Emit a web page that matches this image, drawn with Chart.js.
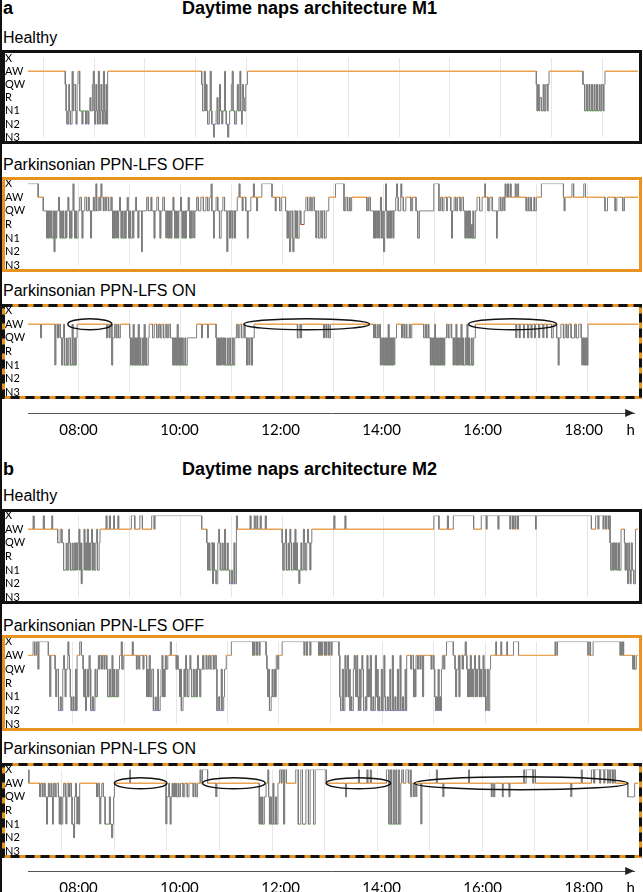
<!DOCTYPE html>
<html>
<head>
<meta charset="utf-8">
<script src="https://cdn.jsdelivr.net/npm/chart.js@4.4.1/dist/chart.umd.min.js"></script>
<style>
  html, body { margin: 0; padding: 0; background: #fff; }
  body { width: 643px; height: 892px; position: relative; overflow: hidden; font-family: "Liberation Sans", Arial, sans-serif; }
  #edge { position: absolute; left: 0; top: 0; width: 2px; height: 892px; background: #111; }
  .t { position: absolute; white-space: nowrap; line-height: 1; color: #000; }
  .head { font-size: 18px; font-weight: bold; }
  .sub { font-size: 16px; }
  canvas { position: absolute; }
</style>
</head>
<body>
<div id="edge"></div>
<div class="t head" style="left:3px;top:-1px">a</div>
<div class="t head" style="left:182px;top:-1px">Daytime naps architecture M1</div>
<div class="t sub" style="left:3px;top:30px">Healthy</div>
<div class="t sub" style="left:3px;top:157px">Parkinsonian PPN-LFS OFF</div>
<div class="t sub" style="left:3px;top:283px">Parkinsonian PPN-LFS ON</div>
<div class="t head" style="left:3px;top:460px">b</div>
<div class="t head" style="left:182px;top:460px">Daytime naps architecture M2</div>
<div class="t sub" style="left:3px;top:488px">Healthy</div>
<div class="t sub" style="left:3px;top:618px">Parkinsonian PPN-LFS OFF</div>
<div class="t sub" style="left:3px;top:741px">Parkinsonian PPN-LFS ON</div>

<script>
// Sleep stages, top to bottom
const X = 6, AW = 5, QW = 4, R = 3, N1 = 2, N2 = 1, N3 = 0;
const stageNames = ['N3', 'N2', 'N1', 'R', 'QW', 'AW', 'X'];

// Time in minutes after 07:00, recording ends at 19:00
const END_MIN = 720;
const axisTicks = [60, 180, 300, 420, 540, 660, 716];
const axisLabels = ['08:00', '10:00', '12:00', '14:00', '16:00', '18:00', 'h'];

// Hypnograms: [minute, stage entered]
const m1Healthy = [[0,AW],
  [44,QW],[45,N1],[46,N2],[48,QW],[49,N1],[50,N2],[52,AW],[53,N1],[54,QW],[56,N1],[57,N2],[58,QW],[59,AW],[61,N1],[64,N2],[65,N1],[68,N2],[69,N1],[71,N2],[72,N1],[73,R],[74,N1],[76,QW],[77,AW],[78,N1],[79,N2],[80,QW],[81,N1],[82,N2],[83,AW],[84,N1],[85,N2],[86,QW],[87,N1],[88,N2],[89,AW],[90,N1],[91,N2],[92,QW],[93,N2],[94,AW],
  [205,QW],[206,N1],[208,AW],[209,N1],[210,QW],[211,N1],[212,N2],[214,N1],[215,AW],[216,N1],[217,N2],[219,N3],[220,N2],[222,N1],[223,R],[224,N2],[226,QW],[227,N1],[229,N2],[230,N1],[232,AW],[233,N1],[234,N2],[236,N3],[237,N2],[238,N1],[240,QW],[241,AW],[242,N1],[244,N2],[246,N1],[247,QW],[248,N1],[250,AW],[251,N1],[252,N2],[253,QW],[254,R],[255,N1],[257,QW],[259,AW],
  [600,QW],[601,N1],[602,QW],[603,N1],[604,R],[606,N1],[608,QW],[609,N1],[611,QW],[613,N1],[614,QW],[615,AW],
  [655,QW],[657,N1],[659,QW],[660,N1],[662,QW],[663,N1],[665,QW],[666,N1],[668,QW],[669,N1],[671,QW],[672,N1],[674,QW],[675,N1],[677,QW],[679,N1],[680,QW],[681,AW],[720,AW]];

const m1Off = [[0,X],[12,AW],[18,QW],
  [22,N1],[23,QW],[24,N1],[25,QW],[26,N1],[27,QW],[28,N1],[30,QW],[31,N2],[32,QW],[33,N1],[34,QW],[36,AW],[37,QW],[38,N1],[39,QW],[40,N1],[41,QW],[42,N1],[44,QW],[45,N1],[46,QW],[47,AW],[48,QW],[49,N1],[50,QW],[51,N1],[52,QW],[53,X],[54,QW],[55,N1],[56,QW],[57,N1],[59,QW],
  [61,AW],[63,QW],[64,N1],[65,QW],[67,AW],[69,QW],[71,AW],[72,QW],[74,N1],[75,QW],[77,AW],[78,QW],[80,X],[81,QW],
  [83,AW],[85,QW],[86,X],[87,AW],[89,QW],[90,AW],[92,QW],[93,AW],[95,QW],[97,AW],[99,QW],
  [100,N1],[101,QW],[102,N1],[103,QW],[104,N1],[105,QW],[106,N1],[107,QW],[108,AW],[109,QW],[110,N1],[111,QW],[112,N1],[114,QW],[115,N1],[116,QW],[117,AW],[118,QW],[119,N1],[120,QW],[121,N1],[123,QW],[124,N1],[125,QW],[127,AW],[128,QW],[130,N1],[131,QW],
  [134,N2],[135,QW],
  [140,AW],[142,QW],[145,AW],[146,QW],[149,N1],[150,QW],[152,AW],[154,QW],[156,N1],[157,QW],[159,AW],[161,QW],
  [163,N1],[164,QW],[165,N1],[166,QW],[167,N1],[168,QW],[169,N1],[170,QW],[171,AW],[172,QW],[173,N1],[174,QW],[175,N1],[176,QW],[177,N1],[178,QW],[180,AW],[181,QW],[182,N1],[183,QW],[184,N1],[185,QW],[186,N1],[187,QW],[189,AW],[190,QW],[191,N1],[192,QW],[193,N1],[194,QW],[196,N1],[197,QW],[199,AW],[201,QW],
  [204,AW],[207,QW],[210,AW],[212,QW],[214,AW],[216,X],[217,QW],
  [219,N1],[220,QW],[222,AW],[224,QW],[226,N1],[228,QW],[230,AW],[232,QW],[235,N2],[236,QW],
  [238,N1],[239,QW],[241,N1],[242,QW],[244,N1],[245,QW],[247,AW],
  [249,X],[250,AW],[253,QW],[254,AW],[257,QW],[259,N1],[260,QW],[263,AW],[266,X],[267,AW],[270,QW],[271,AW],
  [276,X],[288,AW],[292,QW],[293,AW],[297,QW],[299,AW],[304,QW],
  [306,N1],[307,QW],[308,N1],[309,N2],[310,QW],[312,N1],[313,N2],[314,QW],[316,N1],[317,QW],[318,N1],[320,QW],[322,R],[326,QW],[328,AW],
  [330,QW],[332,AW],[334,QW],[336,AW],[338,QW],[340,N1],[341,QW],
  [343,N1],[345,QW],[347,N1],[348,QW],[350,N1],[352,QW],[355,AW],[363,X],[373,QW],[375,AW],[377,QW],[379,AW],[380,QW],[382,AW],[400,QW],[402,AW],[404,QW],
  [408,N1],[409,QW],[410,N1],[411,QW],[412,N1],[413,QW],[414,N1],[415,QW],[416,AW],[417,N1],[418,QW],[419,N1],[420,N2],[421,QW],[422,X],[423,QW],[424,N1],[425,QW],[426,N1],[427,QW],[428,N1],[429,QW],[431,N1],[432,QW],[434,AW],[435,X],[436,AW],[437,QW],[440,X],[441,AW],[443,QW],
  [446,AW],[452,QW],[454,AW],[458,QW],[460,N1],[462,QW],[479,X],[485,QW],
  [487,AW],[489,QW],[491,AW],[494,QW],[495,AW],[499,QW],[500,N1],[501,QW],[503,AW],[505,QW],[507,AW],[510,QW],[512,AW],[514,QW],
  [516,N1],[517,QW],[518,N1],[519,QW],[520,N1],[521,QW],[522,N1],[523,R],[524,N1],[525,QW],[526,N1],[528,QW],
  [530,AW],[533,QW],[536,AW],[539,X],[540,AW],[543,QW],[545,AW],[548,QW],[553,N1],[554,QW],
  [556,AW],[558,QW],[560,AW],[562,QW],[563,X],[564,AW],[566,X],[567,AW],[569,X],[570,AW],
  [575,X],[576,AW],[578,X],[579,AW],[588,QW],[590,AW],[591,QW],[593,AW],[594,QW],[597,AW],[598,QW],[600,AW],
  [606,X],[632,AW],[633,QW],[634,AW],[642,X],[644,AW],[656,X],[658,AW],
  [681,QW],[684,AW],[693,QW],[695,AW],[702,QW],[704,AW],[720,AW]];

const m1On = [[0,AW],[15,QW],[16,AW],
  [32,N1],[33,AW],[35,QW],[36,AW],[38,QW],[40,N1],[41,QW],[42,AW],[43,N1],[45,QW],[46,N1],[48,QW],[50,N1],[52,AW],[53,N1],[55,QW],[56,N1],[57,QW],[58,AW],
  [93,QW],[94,AW],[96,QW],[97,AW],[99,N1],[100,QW],[102,AW],[104,QW],[106,AW],[107,QW],[109,AW],
  [120,QW],[121,N1],[122,QW],[123,N1],[124,AW],[125,N1],[126,QW],[127,N1],[128,QW],[129,N1],[130,AW],[131,N1],[132,QW],[133,N1],[135,QW],[136,N1],[137,AW],[138,N1],[139,QW],[140,N1],[142,QW],[143,AW],
  [147,QW],[149,AW],[152,QW],[154,AW],[156,QW],[158,AW],[160,QW],[162,AW],[164,QW],[166,AW],[168,QW],
  [171,N1],[172,QW],[173,N1],[174,QW],[175,N1],[176,AW],[177,N1],[178,QW],[179,N1],[180,QW],[181,N1],[182,QW],[183,N1],[185,QW],[186,N1],[188,QW],
  [199,AW],[205,QW],[206,AW],[212,QW],[213,AW],[222,QW],
  [223,N1],[224,QW],[225,N1],[226,QW],[227,N1],[228,QW],[229,N1],[230,QW],[231,N1],[232,QW],[233,N1],[235,QW],[236,N1],[238,QW],[239,N1],[241,QW],[242,N1],[244,QW],[246,AW],[248,QW],[250,AW],[252,QW],[254,AW],[256,QW],[258,N1],[259,QW],[261,N1],[262,QW],[264,N1],[265,QW],[267,AW],
  [318,QW],[320,AW],[322,QW],[323,AW],
  [349,QW],[350,AW],[352,QW],[353,AW],[355,QW],[357,AW],
  [408,QW],[409,AW],[410,QW],[412,AW],[413,QW],[415,AW],[416,N1],[417,QW],[418,N1],[419,QW],[420,N1],[421,QW],[422,N1],[423,QW],[424,N1],[425,AW],[426,N1],[427,QW],[428,N1],[429,QW],[430,N1],[431,QW],[432,N1],[433,QW],[435,AW],
  [441,QW],[442,AW],[444,QW],[446,AW],[447,QW],[450,AW],[451,QW],[453,AW],
  [467,QW],[469,AW],[470,QW],[472,AW],[473,QW],[475,N1],[476,QW],[477,N1],[478,QW],[479,N1],[480,AW],[481,N1],[482,QW],[483,N1],[484,QW],[485,N1],[486,QW],[487,N1],[488,QW],[489,N1],[490,QW],[491,N1],[492,QW],[494,AW],[496,QW],[498,AW],[500,QW],
  [502,N1],[503,QW],[504,N1],[505,AW],[506,N1],[507,QW],[508,N1],[509,QW],[510,N1],[511,AW],[512,N1],[513,QW],[514,N1],[516,QW],[517,N1],[518,AW],[519,N1],[520,QW],[521,N1],[523,QW],[524,N1],[526,QW],[528,AW],
  [576,QW],[577,AW],[580,QW],[581,AW],[585,QW],[586,AW],[590,QW],[591,AW],[594,QW],[595,AW],[598,QW],[599,AW],[603,QW],[604,AW],[608,QW],[609,AW],[612,QW],[613,AW],
  [618,QW],[620,AW],[624,QW],[626,N1],[627,QW],[629,AW],[632,QW],[634,AW],[636,QW],[638,AW],[641,QW],[645,AW],[647,QW],[650,AW],[653,QW],
  [654,N1],[655,QW],[656,N1],[657,QW],[658,N1],[659,QW],[660,N1],[661,AW],[720,AW]];

const m2Healthy = [[0,AW],[6,X],[7,AW],[18,X],[19,AW],[28,X],[29,AW],
  [35,QW],[38,AW],[40,QW],[42,N1],[45,QW],[46,N1],[48,AW],[49,QW],[50,N1],[52,QW],[53,N1],[55,QW],[56,N1],[57,QW],[58,N1],[59,QW],[60,AW],[61,N1],[62,QW],[63,N2],[64,N1],[65,QW],[66,AW],[67,N1],[68,QW],[69,N1],[70,AW],[71,N1],[72,QW],[73,N1],[74,QW],[75,AW],[76,N1],[77,QW],[78,N1],[80,QW],[81,AW],[82,N1],[84,QW],[85,AW],
  [92,X],[93,AW],[96,X],[97,AW],[101,X],[102,AW],[106,X],[107,AW],
  [122,X],[126,AW],[132,X],[135,AW],[146,X],[149,AW],[150,X],[205,AW],
  [211,QW],[212,N1],[213,QW],[214,N1],[216,QW],[218,N2],[219,QW],[220,N1],[222,N2],[224,QW],[225,AW],[226,QW],[227,N1],[229,QW],[230,N1],[232,AW],[233,N1],[235,QW],[236,N1],[238,N2],[240,N1],[241,N2],[243,QW],[244,N2],[246,X],[247,AW],
  [262,X],[263,AW],[267,X],[268,AW],[270,X],[271,AW],[274,X],[275,AW],[280,X],[281,AW],
  [300,QW],[301,N1],[303,QW],[304,AW],[305,N1],[307,QW],[308,N1],[309,AW],[310,QW],[311,N1],[313,QW],[314,N1],[315,AW],[316,N1],[317,QW],[318,N1],[320,N2],[321,N1],[322,QW],[323,N1],[325,AW],[326,QW],[327,N1],[329,QW],[330,AW],[331,QW],[333,N1],[334,QW],[335,AW],
  [361,X],[362,AW],[374,X],[375,AW],
  [479,X],[485,AW],[495,X],[496,AW],[502,X],[526,AW],[535,X],[541,AW],[542,X],[555,AW],[556,X],[569,AW],[570,X],[572,AW],[573,X],[575,AW],[576,X],[578,AW],[579,X],[599,AW],[600,X],
  [665,AW],[670,X],[673,AW],[674,X],[679,AW],[680,X],[682,AW],[683,X],[685,AW],[686,X],
  [687,QW],[688,N1],[690,QW],[691,N1],[692,QW],[693,N1],[694,QW],[695,N1],[697,QW],[698,N1],[700,AW],[704,QW],[705,N1],[706,QW],[707,N1],[708,N2],[709,QW],[710,N1],[711,N2],[712,QW],[713,N1],[715,N2],[717,AW],[720,AW]];

const m2Off = [[0,AW],[6,X],[8,AW],[10,X],[12,QW],[13,X],[24,AW],[26,N1],[27,AW],
  [32,QW],[33,N1],[34,QW],[36,N2],[38,N1],[39,N2],[41,QW],[42,AW],[43,QW],[44,N1],[45,QW],[47,X],[48,AW],[49,QW],[50,N1],[51,N2],[53,N1],[54,N2],[56,QW],[57,N2],[58,AW],[61,X],[63,AW],
  [65,QW],[66,N1],[67,QW],[68,N2],[69,N1],[70,QW],[71,N1],[72,AW],[73,QW],[74,N2],[76,N1],[77,N2],[79,QW],[80,N1],[82,QW],[83,AW],[84,QW],[85,AW],
  [87,QW],[88,AW],[90,QW],[91,AW],[93,QW],[94,N1],[96,QW],[97,N1],[99,AW],[100,N1],[101,QW],[102,N1],[104,QW],[105,N1],[107,QW],[108,AW],[110,X],[111,QW],[113,AW],
  [123,X],[124,AW],[128,QW],[129,AW],[131,QW],[132,AW],[136,QW],[137,AW],
  [140,N1],[141,QW],[142,N1],[143,AW],[144,N1],[146,QW],[148,N2],[150,N1],[151,N2],[153,QW],[154,N2],[156,N1],[157,QW],[158,AW],[159,N1],[160,QW],[161,N1],[162,AW],[163,QW],[165,AW],[168,X],[169,AW],
  [175,QW],[176,AW],[177,QW],[179,N1],[180,QW],[181,N2],[183,N1],[184,QW],[185,N1],[186,AW],[187,QW],[188,N1],[190,QW],[191,AW],[192,QW],[193,N1],[195,QW],[196,N1],[198,QW],[199,N1],[200,AW],[201,QW],[203,N1],[204,QW],[206,AW],[207,QW],[209,AW],[211,QW],[213,AW],[215,QW],[217,AW],[219,QW],[220,AW],[222,QW],[223,N2],[225,N1],[226,N2],[228,QW],[229,N2],[231,N1],[232,QW],[234,AW],
  [240,X],[265,AW],[266,X],[267,AW],[268,X],[270,AW],[271,X],[273,AW],[274,X],
  [281,AW],[282,QW],[283,N1],[284,QW],[285,N2],[287,N1],[288,QW],[289,N1],[291,QW],[292,N1],[293,AW],[295,QW],[296,AW],
  [300,X],[326,AW],[327,X],[329,AW],[330,X],[333,AW],[334,X],
  [343,AW],[344,X],[345,AW],[346,X],[347,AW],[348,X],[350,AW],[351,X],[352,AW],[353,X],[355,AW],[356,X],[358,AW],[359,X],
  [367,AW],[368,N1],[369,N2],[371,QW],[372,N2],[374,AW],[375,N1],[376,QW],[377,AW],[378,N1],[379,QW],[380,N2],[381,N1],[382,N2],[384,QW],[385,AW],[386,QW],[387,N1],[388,AW],[389,N1],[390,N2],[391,QW],[392,N2],[393,N1],[394,AW],[395,QW],[396,N2],[398,N1],[399,N2],[400,AW],[401,N1],[402,QW],[403,N1],[404,AW],[405,N2],[407,N1],[408,N2],[410,AW],[411,N1],[412,QW],[413,N2],[414,N1],[415,N2],[417,QW],[418,N2],[420,AW],[421,N1],[422,N2],[424,N1],[425,N2],[427,QW],[428,N2],[430,AW],[431,N2],[433,N1],[434,N2],[436,QW],[437,N2],[439,AW],[440,N2],[442,N1],[443,N2],[445,QW],[446,N2],[447,AW],
  [452,QW],[453,AW],[455,N1],[456,QW],[457,N1],[458,AW],[460,QW],[461,AW],[463,QW],[464,AW],[466,N1],[467,AW],
  [476,QW],[477,AW],[479,QW],[480,N1],[481,N2],[482,N1],[483,N2],[484,QW],[485,N2],[486,N1],[487,N2],[488,QW],[489,AW],[491,QW],[492,AW],
  [494,X],[502,AW],[504,QW],[505,N1],[506,QW],[508,AW],[509,N1],[510,QW],[511,AW],[513,QW],[514,AW],[516,X],[517,AW],
  [518,QW],[519,N1],[520,QW],[521,N1],[522,AW],[523,N1],[524,QW],[525,N1],[526,QW],[527,AW],[528,N1],[529,QW],[530,N1],[531,QW],[532,AW],[533,N1],[534,QW],[535,N1],[536,QW],[537,AW],[538,N1],[539,QW],[540,N2],[541,N1],[542,QW],[543,N2],[545,QW],[546,AW],
  [552,X],[553,AW],[558,X],[559,AW],[565,X],[566,AW],[573,X],[579,AW],
  [622,X],[623,AW],[625,X],[661,AW],[663,X],[664,AW],[667,X],[699,AW],[700,X],[701,AW],[702,X],[703,AW],
  [714,QW],[715,AW],[716,QW],[718,AW],[720,AW]];

const m2On = [[0,X],[1,AW],
  [14,QW],[15,AW],[17,QW],[18,AW],[20,QW],[22,N1],[23,QW],[24,AW],[25,QW],[27,AW],[28,QW],[29,N1],[30,AW],[32,QW],[34,AW],[36,QW],[37,N1],[38,QW],[39,N1],[41,QW],[42,AW],[44,QW],[45,N1],[46,AW],[48,QW],[49,AW],[51,QW],[52,N1],[54,N2],[55,QW],[56,AW],[57,QW],[58,N1],[59,QW],[60,N1],[61,AW],
  [81,QW],[82,AW],[84,QW],[85,N1],[86,QW],[87,AW],[89,QW],[91,N1],[96,QW],[97,N1],[99,N2],[100,N1],[101,QW],[102,AW],
  [120,X],[121,AW],
  [163,N1],[164,QW],[166,AW],[167,QW],[168,N1],[169,QW],[170,AW],[171,QW],[172,AW],[173,QW],[174,AW],[175,QW],[177,AW],[178,QW],[180,AW],[183,QW],[185,AW],[188,QW],[190,AW],[195,QW],[196,AW],[198,QW],[200,AW],
  [203,X],[204,AW],[206,X],[212,AW],[222,QW],[223,AW],
  [273,N1],[274,QW],[275,N1],[276,QW],[277,N1],[279,QW],[281,AW],[283,X],[284,QW],[285,N1],[286,QW],[287,N1],[289,AW],[290,N1],[292,QW],[293,N1],[295,AW],[297,X],[299,AW],[300,X],[302,N1],[303,X],[305,AW],
  [316,X],[319,N1],[322,X],[324,N1],[328,X],[331,N1],[333,X],[337,N1],[339,X],[352,AW],
  [375,QW],[376,AW],[390,X],[391,AW],[400,X],[401,AW],[404,X],[405,AW],
  [423,X],[426,N1],[428,X],[429,N1],[431,X],[432,N1],[434,X],[435,N1],[437,X],[438,N1],[440,AW],[441,X],[443,AW],[446,X],[449,AW],[451,X],[452,QW],[453,AW],[455,QW],[456,AW],[458,QW],[459,AW],[464,N1],[465,AW],
  [482,X],[483,AW],[490,QW],[491,AW],[520,X],[521,AW],
  [547,QW],[548,AW],[550,QW],[551,AW],[560,QW],[561,AW],[568,QW],[569,AW],
  [585,X],[586,AW],[588,X],[596,AW],[597,X],[599,AW],
  [641,QW],[642,AW],[653,X],[654,AW],
  [665,X],[668,AW],[669,X],[675,AW],[676,X],[680,AW],[681,X],[684,AW],[685,X],[687,AW],[688,X],[690,AW],[691,X],[693,AW],
  [708,QW],[716,AW],[720,AW]];

// Highlighted undisturbed wake periods under stimulation: [centre minute, half width in minutes]
const m1OnEllipses = [[73,26],[329,74],[572,52]];
const m2OnEllipses = [[133,31],[243,37],[390,38],[582,126]];

// Faint hour grid, as drawn in each panel
const m1HealthyGrid = [18,78,138,198,258,318,378,438,498,558,618,678];
const hourGrid = [60,120,180,240,300,360,420,480,540,600,660];
const m2OffGrid = [53,114,175,236,296,357,418,479,540,600,661];
const m2OnGrid = [40,102,164,226,288,350,412,474,536,598,660];

const ORANGE_LINE = '#eda24f';
const ORANGE_FRAME = '#e8931f';
const stageColor = { [AW]: ORANGE_LINE, [N1]: '#4f9a3c', [N2]: '#7a7ae0', [R]: '#d33a2c' };

function toSteps(trans) {
  const pts = [];
  trans.forEach(([m, s], i) => {
    if (i > 0) pts.push({ x: m, y: pts[pts.length - 1].y });
    pts.push({ x: m, y: s });
  });
  return pts;
}

const framePlugin = {
  id: 'frame',
  afterDraw(chart, args, opts) {
    const { ctx, width, height } = chart;
    const lw = 3;
    ctx.save();
    ctx.lineWidth = lw;
    ctx.strokeStyle = opts.kind === 'black' ? '#111' : ORANGE_FRAME;
    ctx.strokeRect(lw / 2, lw / 2, width - lw, height - lw);
    if (opts.kind === 'dashed') {
      ctx.strokeStyle = '#111';
      ctx.setLineDash([9, 6]);
      ctx.strokeRect(lw / 2, lw / 2, width - lw, height - lw);
    }
    ctx.restore();
  }
};

const ellipsePlugin = {
  id: 'ovals',
  afterDatasetsDraw(chart, args, opts) {
    if (!opts.items) return;
    const { ctx, scales: { x, y } } = chart;
    ctx.save();
    ctx.strokeStyle = '#111';
    ctx.lineWidth = 1.5;
    opts.items.forEach(([mid, half]) => {
      const cx = x.getPixelForValue(mid);
      const rx = x.getPixelForValue(mid + half) - cx;
      const cy = y.getPixelForValue(AW);
      ctx.beginPath();
      ctx.ellipse(cx, cy, rx, half > 100 ? 6.5 : 5.5, 0, 0, Math.PI * 2);
      ctx.stroke();
    });
    ctx.restore();
  }
};

const panels = [
  { data: m1Healthy, top: 50, height: 94, padTop: 8, frame: 'black', grid: m1HealthyGrid },
  { data: m1Off, top: 177, height: 95, padTop: 6, frame: 'orange', grid: hourGrid },
  { data: m1On, top: 304, height: 95, padTop: 6, frame: 'dashed', grid: hourGrid, ovals: m1OnEllipses },
  { data: m2Healthy, top: 509, height: 95, padTop: 6, frame: 'black', grid: hourGrid },
  { data: m2Off, top: 635, height: 96, padTop: 6, frame: 'orange', grid: m2OffGrid },
  { data: m2On, top: 763, height: 95, padTop: 6, frame: 'dashed', grid: m2OnGrid, ovals: m2OnEllipses },
];

function addCanvas(left, top, w, h) {
  const c = document.createElement('canvas');
  c.width = w; c.height = h;
  c.style.left = left + 'px'; c.style.top = top + 'px';
  c.style.width = w + 'px'; c.style.height = h + 'px';
  document.body.appendChild(c);
  return c;
}

panels.forEach((p) => {
  const canvas = addCanvas(2, p.top, 640, p.height);
  new Chart(canvas, {
    type: 'line',
    data: {
      datasets: [{
        data: toSteps(p.data),
        borderWidth: 1,
        borderColor: '#888',
        pointRadius: 0,
        tension: 0,
        segment: {
          borderColor: (ctx) => ctx.p0.parsed.y === ctx.p1.parsed.y
            ? (stageColor[ctx.p0.parsed.y] || '#858585') : '#7c7c7c',
          borderWidth: (ctx) => ctx.p0.parsed.y === ctx.p1.parsed.y && ctx.p0.parsed.y === AW ? 1.4 : 1,
        },
      }],
    },
    options: {
      responsive: false,
      animation: false,
      events: [],
      layout: { padding: { top: p.padTop, bottom: 6, left: 3, right: 4 } },
      plugins: {
        legend: { display: false },
        tooltip: { enabled: false },
        frame: { kind: p.frame },
        ovals: { items: p.ovals || null },
      },
      scales: {
        x: {
          type: 'linear', min: 0, max: END_MIN,
          afterBuildTicks: (s) => { s.ticks = p.grid.map((v) => ({ value: v })); },
          ticks: { display: false },
          grid: { color: '#e6e6e6', drawTicks: false },
          border: { display: false },
        },
        y: {
          min: 0, max: 6,
          afterFit: (s) => { s.width = 23; },
          ticks: {
            stepSize: 1, padding: 0, crossAlign: 'far', color: '#000', autoSkip: false,
            font: { family: 'Lato', size: 11 },
            callback: (v) => stageNames[v],
          },
          grid: { display: false },
          border: { display: false },
        },
      },
    },
    plugins: [framePlugin, ellipsePlugin],
  });
});

const arrowPlugin = {
  id: 'arrow',
  afterDraw(chart) {
    const { ctx, chartArea } = chart;
    const yy = chartArea.bottom, xx = chartArea.right;
    ctx.save();
    ctx.fillStyle = '#222';
    ctx.beginPath();
    ctx.moveTo(xx, yy);
    ctx.lineTo(xx - 9, yy - 4);
    ctx.lineTo(xx - 9, yy + 4);
    ctx.closePath();
    ctx.fill();
    ctx.restore();
  }
};

[413, 871].forEach((lineY) => {
  const top = lineY - 8;
  const h = Math.min(40, 892 - top);
  const canvas = addCanvas(2, top, 641, h);
  new Chart(canvas, {
    type: 'line',
    data: { datasets: [] },
    options: {
      responsive: false,
      animation: false,
      events: [],
      layout: { padding: { top: 0, bottom: 0, left: 26, right: 3 } },
      plugins: { legend: { display: false }, tooltip: { enabled: false } },
      scales: {
        x: {
          type: 'linear', min: 0, max: END_MIN, position: 'bottom',
          afterBuildTicks: (s) => { s.ticks = axisTicks.map((v) => ({ value: v })); },
          afterFit: (s) => { s.height = h - 8; },
          ticks: {
            autoSkip: false, maxRotation: 0, padding: 8, color: '#000',
            font: { family: 'Lato', size: 15 },
            callback: (v, i) => axisLabels[i],
          },
          grid: { display: false, drawTicks: false },
          border: { display: true, color: '#555', width: 1 },
        },
        y: { display: false, min: 0, max: 1 },
      },
    },
    plugins: [arrowPlugin],
  });
});
</script>
</body>
</html>
